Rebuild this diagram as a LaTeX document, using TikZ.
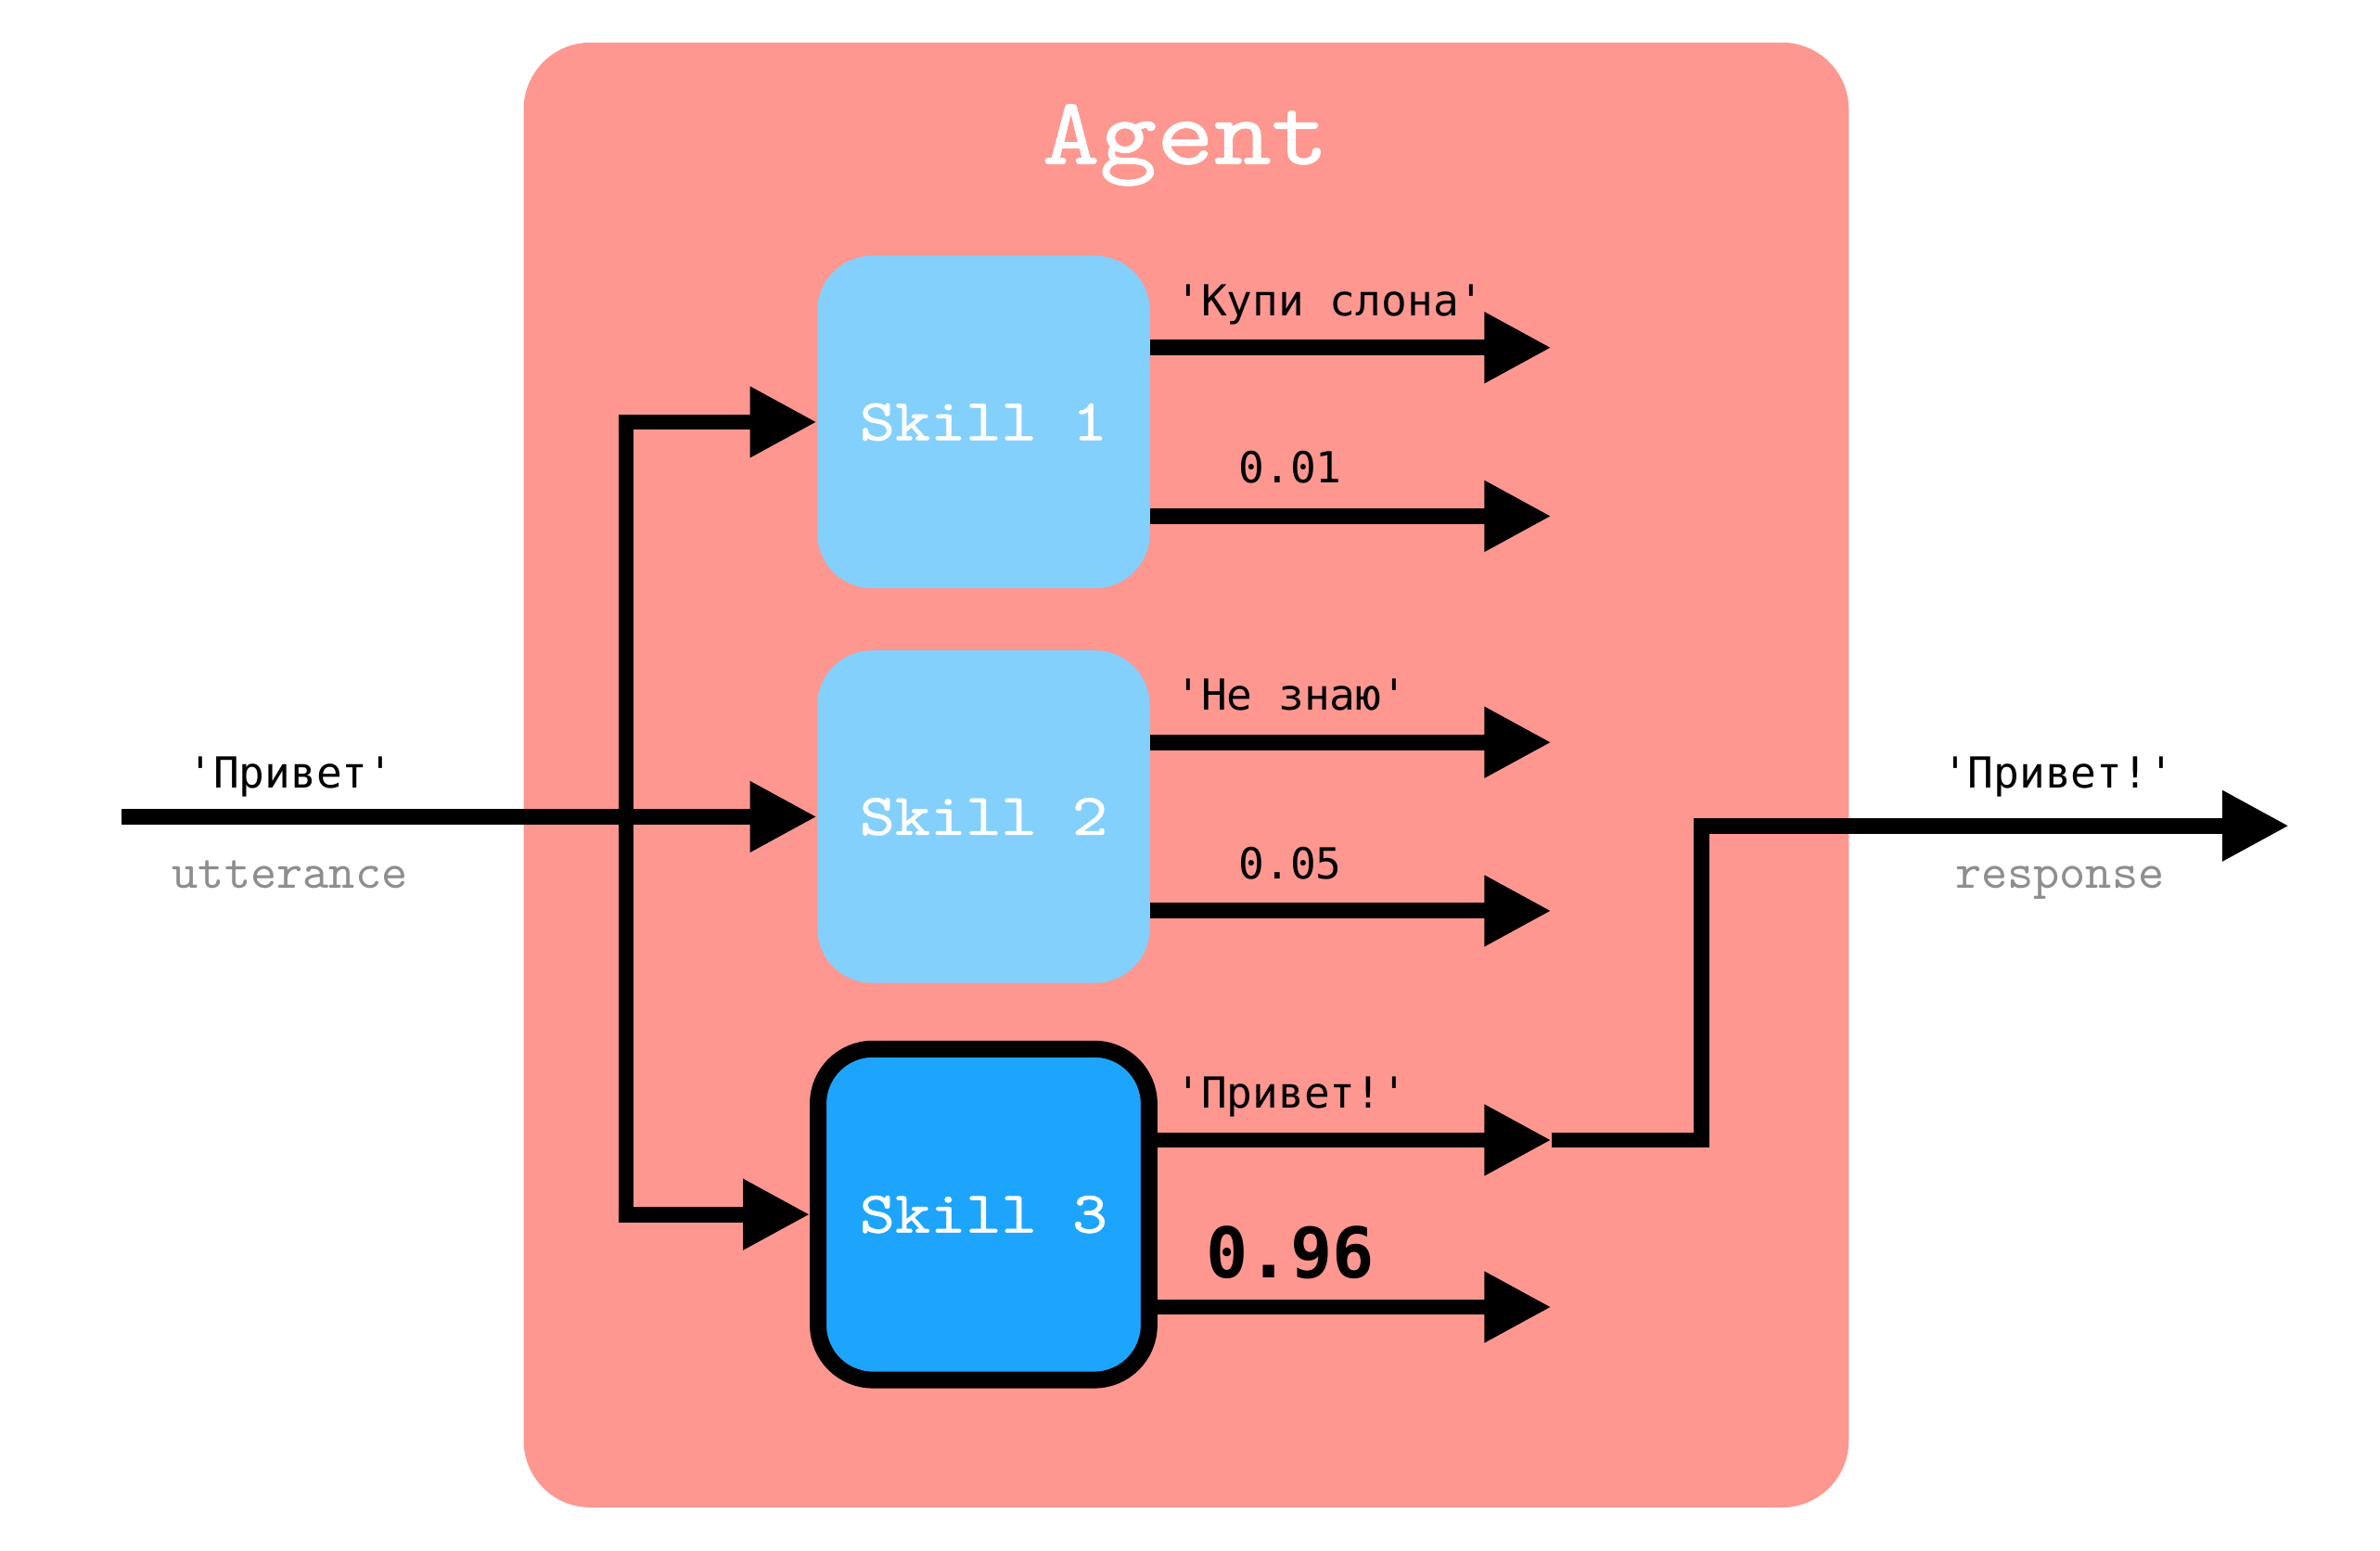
\documentclass[tikz,border=0pt]{standalone}
\usepackage{fontspec}
\usetikzlibrary{arrows.meta}
\newfontfamily\monofont{DejaVu Sans Mono}[Ligatures=TeXOff]
\newfontfamily\typefont{lmmono10-regular.otf}[FakeStretch=1.14, FakeBold=0.8]
\newfontfamily\plaintype{lmmono10-regular.otf}
\definecolor{agentred}{HTML}{FE9790}
\definecolor{skilllight}{HTML}{84D0FC}
\definecolor{skilldark}{HTML}{1DA5FD}
\definecolor{notegray}{HTML}{8E8E8E}

\begin{document}
\begin{tikzpicture}[
		x=0.5pt, y=-0.5pt,
		flow/.style={line width=5.15pt, -{Triangle[length=22pt,width=22pt]}},
		skill/.style={rectangle, rounded corners=18pt, fill=skilllight, minimum width=109.5pt, minimum height=109.5pt, inner sep=0pt, text=white, font=\typefont\fontsize{19.5}{22}\selectfont},
		chosen/.style={skill, fill=skilldark, draw=black, line width=5.5pt, minimum width=109pt, minimum height=109pt},
		said/.style={inner sep=0pt, font=\monofont\fontsize{14.1}{16}\selectfont},
		hint/.style={inner sep=0pt, text=notegray, font=\plaintype\fontsize{16.4}{18}\selectfont}
		]
		\useasboundingbox (0,0) rectangle (1568,1021.7);
		\node[rectangle, rounded corners=22pt, fill=agentred, minimum width=436.5pt, minimum height=482.5pt, inner sep=0pt] (agent) at (781.5,510.5) {};
		\node[anchor=base, inner sep=0pt, text=white, font=\typefont\fontsize{31.5}{34}\selectfont] (title) at (781,108) {Agent};
		
		\node[skill] (skill1) at (648,278) {Skill 1};
		\node[skill] (skill2) at (648,538) {Skill 2};
		\node[chosen] (skill3) at (648,800) {Skill 3};
		
		% answer and score of every skill
		\foreach \s/\ya/\yb in {1/229/340, 2/489/600, 3/751/861} {
			\coordinate (hi\s) at (1022,\ya);
			\coordinate (lo\s) at (1022,\yb);
			\draw[flow] (skill\s.east |- hi\s) -- (hi\s);
			\draw[flow] (skill\s.east |- lo\s) -- (lo\s);
		}
		\node[said, anchor=base west] (ans1) at (774,208) {'Купи слона'};
		\node[said, anchor=base] (score1) at (850,318) {0.01};
		\node[said, anchor=base west] (ans2) at (774,468) {'Не знаю'};
		\node[said, anchor=base] (score2) at (850,579) {0.05};
		\node[said, anchor=base west] (ans3) at (774,730) {'Привет!'};
		\node[said, anchor=base, font=\monofont\bfseries\fontsize{23}{26}\selectfont] (score3) at (850,842) {0.96};
		
		% utterance in
		\coordinate (start) at (80,538);
		\coordinate (split) at (412.5,538);
		\draw[flow] (start) -- (skill2.west);
		\draw[flow] (split) |- (skill1.west);
		\draw[flow] (split) |- (skill3.west);
		\node[said, anchor=base] (query) at (191.5,519) {'Привет'};
		\node[hint, anchor=base] (utter) at (191,585) {utterance};
		
		% response out
		\coordinate (reply) at (1508,544);
		\draw[flow] (hi3) -- ++(99,0) |- (reply);
		\node[said, anchor=base] (answer) at (1356,519) {'Привет!'};
		\node[hint, anchor=base] (resp) at (1357,585) {response};
\end{tikzpicture}
\end{document}
